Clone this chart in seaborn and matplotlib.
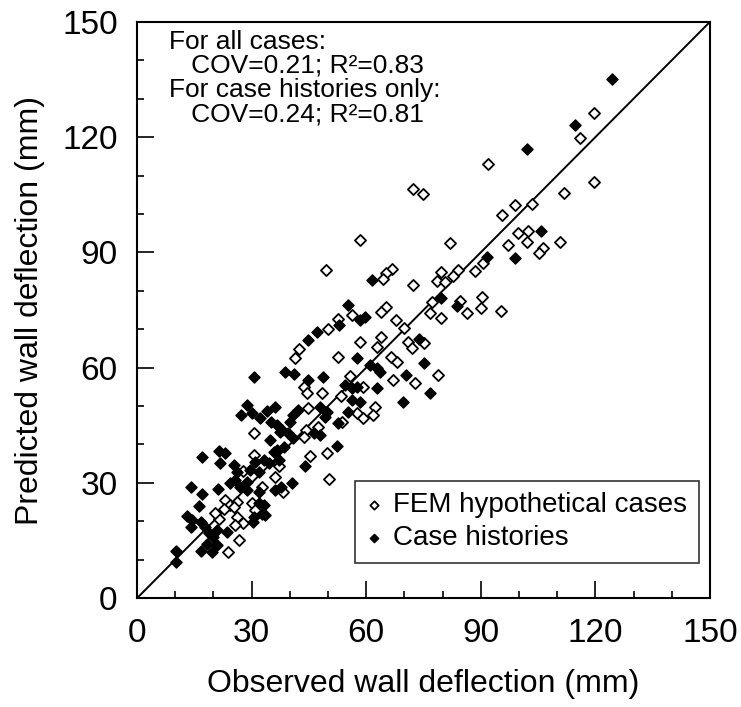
import matplotlib
matplotlib.use("Agg")
import matplotlib.pyplot as plt
import seaborn as sns
import pandas as pd
from matplotlib.ticker import MultipleLocator

# FEM hypothetical cases (open diamonds)
fem_x = [119.6, 115.9, 91.9, 119.7, 111.7, 98.9, 103.4, 95.5, 81.9, 99.7, 102.5, 102.0, 97.1,
         106.4, 105.2, 110.7, 90.5, 88.5, 84.1, 82.8, 79.6, 78.6, 80.6, 77.1, 84.6, 86.3, 90.2,
         90.1, 95.2, 79.6, 76.7, 72.3, 75.0, 58.4, 49.5, 66.7, 65.2, 64.3, 72.3, 65.2, 63.8,
         56.2, 52.7, 50.1, 67.8, 70.0, 63.8, 58.4, 62.9, 71.0, 72.1, 75.1, 42.5, 41.4, 52.7,
         66.5, 68.1, 78.9, 55.8, 67.1, 72.8, 43.7, 44.4, 48.4, 53.4, 59.2, 44.8, 62.3, 61.9,
         57.5, 59.2, 47.5, 44.2, 43.7, 53.6, 49.7, 45.3, 50.3, 38.3, 30.5, 30.7, 27.7, 37.1,
         36.2, 32.7, 23.1, 24.4, 26.2, 25.3, 22.7, 30.1, 31.0, 21.4, 20.5, 26.2, 27.7, 25.7,
         26.6, 23.7]
fem_y = [126.2, 119.9, 113.0, 108.3, 105.4, 102.4, 102.6, 99.8, 92.4, 95.0, 95.7, 92.7, 91.8,
         91.1, 89.8, 92.8, 87.3, 85.2, 85.4, 83.9, 84.8, 82.5, 82.4, 77.2, 77.4, 74.3, 78.5,
         75.6, 74.7, 72.8, 74.2, 106.4, 105.2, 93.2, 85.4, 85.6, 84.6, 83.0, 81.5, 75.9, 74.6,
         73.7, 72.7, 70.0, 72.4, 70.2, 68.1, 66.7, 65.3, 66.7, 65.0, 66.3, 64.8, 62.4, 62.7,
         62.7, 61.5, 58.1, 57.8, 56.9, 56.1, 55.0, 53.5, 53.5, 52.6, 55.0, 49.4, 49.8, 47.7,
         48.1, 46.8, 44.6, 43.8, 42.0, 45.9, 37.8, 37.0, 30.9, 27.7, 43.0, 37.2, 33.2, 34.4,
         31.6, 29.0, 25.5, 24.2, 25.1, 23.8, 23.2, 24.7, 22.9, 20.5, 22.2, 21.0, 19.5, 19.0,
         15.1, 11.9]

# Case histories (filled diamonds)
case_x = [124.3, 114.6, 102.0, 105.7, 98.9, 91.7, 79.6, 83.7, 61.4, 55.3, 59.7, 58.5, 53.0,
          47.0, 44.8, 73.7, 57.5, 61.0, 62.7, 63.6, 75.1, 38.7, 41.1, 44.8, 48.6, 70.4, 54.5,
          56.2, 57.5, 62.7, 76.7, 69.7, 56.2, 58.4, 55.3, 42.2, 40.0, 40.9, 47.9, 49.7, 49.2,
          52.7, 37.9, 39.6, 47.9, 52.4, 44.0, 40.5, 40.9, 46.2, 30.5, 10.3, 10.3, 17.1, 21.4,
          22.9, 21.6, 14.2, 17.0, 21.1, 24.3, 16.2, 13.1, 14.4, 16.8, 14.0, 17.9, 18.8, 19.9,
          16.8, 18.3, 20.9, 19.6, 20.9, 23.6, 25.7, 27.0, 28.8, 30.5, 30.4, 32.7, 33.6, 28.8,
          31.8, 31.8, 33.2, 36.2, 37.8, 26.2, 25.3, 29.7, 31.0, 33.2, 31.8, 34.5, 35.8, 36.6,
          37.1, 34.9, 38.4, 28.8, 27.2, 30.1, 32.1, 34.0, 36.2, 35.1, 36.6, 37.5]
case_y = [135.1, 123.1, 117.0, 95.7, 88.5, 88.8, 78.2, 76.1, 82.8, 76.3, 73.3, 72.5, 71.1,
          69.4, 67.2, 67.4, 62.4, 60.7, 59.8, 58.9, 61.1, 58.9, 58.3, 56.8, 57.6, 58.1, 55.5,
          54.6, 55.0, 54.8, 53.3, 51.1, 51.6, 51.1, 48.5, 49.0, 45.9, 47.7, 49.8, 48.5, 47.2,
          45.5, 43.8, 42.9, 42.4, 39.7, 34.4, 29.9, 41.8, 42.9, 57.5, 12.3, 9.5, 36.8, 38.3,
          37.8, 35.1, 28.8, 27.0, 28.3, 29.9, 24.0, 21.4, 20.3, 19.8, 18.6, 18.6, 17.0, 16.0,
          12.3, 14.2, 13.8, 12.1, 17.7, 17.3, 30.7, 29.0, 30.3, 21.2, 19.9, 22.0, 21.6, 28.1,
          27.7, 24.7, 24.2, 28.1, 29.0, 32.9, 34.6, 33.3, 35.5, 35.9, 32.9, 35.1, 38.1, 38.5,
          35.9, 41.1, 39.4, 50.3, 47.7, 48.3, 46.8, 48.8, 49.8, 45.9, 45.1, 43.3]

tick_vals = [0, 30, 60, 90, 120, 150]
annot_lines = ["For all cases:", "   COV=0.21; R\u00b2=0.83",
               "For case histories only:", "   COV=0.24; R\u00b2=0.81"]

sns.set_theme(style="white")
plt.rcParams["font.family"] = ["Liberation Sans", "DejaVu Sans"]
plt.rcParams["text.color"] = "black"

fem = pd.DataFrame({"obs": fem_x, "pred": fem_y})
case = pd.DataFrame({"obs": case_x, "pred": case_y})

fig = plt.figure(figsize=(7.41, 7.07), dpi=100)
ax = fig.add_axes([0.185, 0.154, 0.773, 0.815])

ax.plot([0, 150], [0, 150], color="black", lw=1.4, zorder=1)
sns.scatterplot(data=fem, x="obs", y="pred", ax=ax, marker="D", s=32,
                facecolor="white", edgecolor="black", linewidth=1.3,
                label="FEM hypothetical cases", zorder=2)
sns.scatterplot(data=case, x="obs", y="pred", ax=ax, marker="D", s=32,
                color="black", edgecolor="black", linewidth=1.0,
                label="Case histories", zorder=3)

ax.set_xlim(0, 150)
ax.set_ylim(0, 150)
ax.set_xticks(tick_vals)
ax.set_yticks(tick_vals)
ax.xaxis.set_minor_locator(MultipleLocator(10))
ax.yaxis.set_minor_locator(MultipleLocator(10))
ax.tick_params(which="major", direction="in", length=12, width=1.2, colors="black",
               labelsize=24, pad=14, bottom=True, left=True, top=False, right=False)
ax.tick_params(which="minor", direction="in", length=5, width=1.2, colors="black",
               bottom=True, left=True, top=False, right=False)
for sp in ax.spines.values():
    sp.set_color("black")
    sp.set_linewidth(1.5)

ax.set_xlabel("Observed wall deflection (mm)", fontsize=23, labelpad=15, color="black")
ax.set_ylabel("Predicted wall deflection (mm)", fontsize=23, labelpad=12, color="black")

ytxt = [0.966, 0.925, 0.882, 0.840]
for t, yy in zip(annot_lines, ytxt):
    ax.text(0.056, yy, t, transform=ax.transAxes, fontsize=19, va="center", ha="left",
            color="black")

leg = ax.legend(loc="lower right", bbox_to_anchor=(0.981, 0.061), borderaxespad=0,
                frameon=True, fancybox=False, edgecolor="black", fontsize=20,
                markerscale=0.75, handlelength=0.5, handletextpad=0.45,
                borderpad=0.42, labelspacing=0.25, labelcolor="black")
leg.get_frame().set_linewidth(1.2)

fig.savefig("out.png", dpi=100)
